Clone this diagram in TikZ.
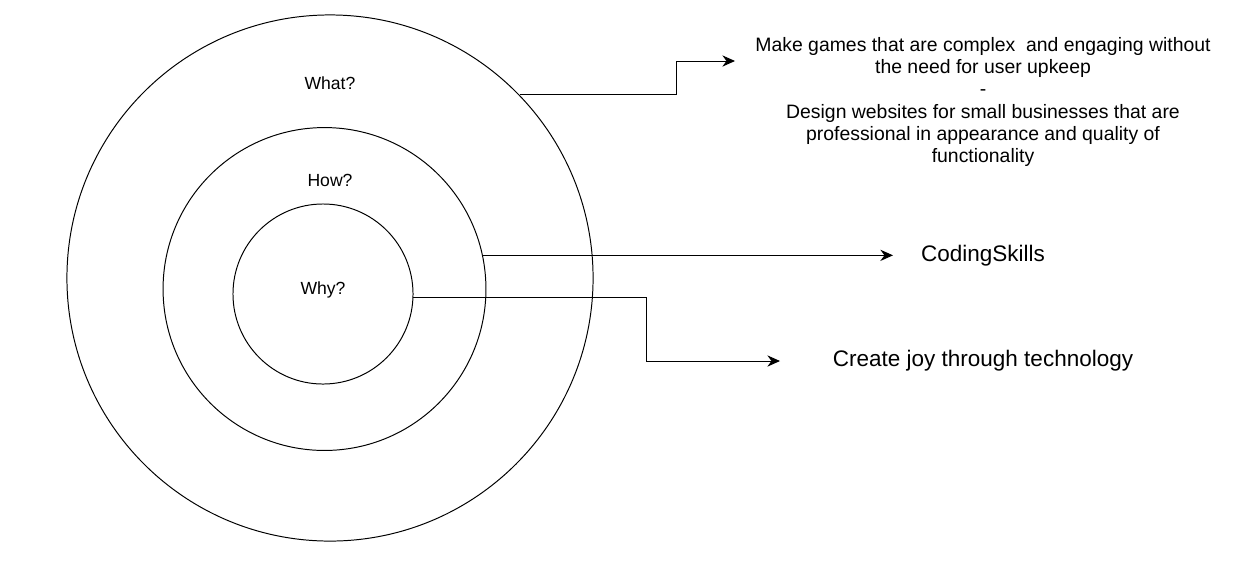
\documentclass[tikz,border=0pt]{standalone}
\usepackage{fontspec}
\setmainfont{Liberation Sans}
\usetikzlibrary{arrows.meta}

\begin{document}
\begin{tikzpicture}[x=0.025cm, y=-0.025cm, line width=0.7pt,
    ring/.style={draw, circle, inner sep=0pt},
    small/.style={font=\fontsize{12.5}{15.9}\selectfont},
    answer/.style={font=\fontsize{13.8}{15.9}\selectfont, align=center},
    big/.style={font=\fontsize{16}{19}\selectfont},
    >={Stealth[length=9pt, width=8pt]}]
    \useasboundingbox (0,0) rectangle (1233,568);
    % the three rings
    \node[ring, minimum size=13.15cm] (what) at (330,278) {};
    \node[ring, minimum size=8.07cm] (how) at (324.5,289) {};
    \node[ring, minimum size=4.5cm] (why) at (323,294) {};
    \node[small] (whatlbl) at (330,83) {What?};
    \node[small] (howlbl) at (330,180) {How?};
    \node[small] (whylbl) at (323,290) {Why?};
    % answers
    \node[answer] (whattxt) at (983,102)
        {Make games that are complex \ and engaging without\\
         the need for user upkeep\\ -\\
         Design websites for small businesses that are\\
         professional in appearance and quality of\\
         functionality};
    \node[big] (howtxt) at (983,256) {CodingSkills};
    \node[big] (whytxt) at (983,361) {Create joy through technology};
    \coordinate (whattip) at (735,61);
    \coordinate (howtip) at (893,256);
    \coordinate (whytip) at (780,361);
    % connectors
    \draw[->] (what.44.8) -| (676,61) -- (whattip);
    \draw[->] (how.12) -- (how.12 -| howtip);
    \draw[->] (why.-2.4) -| (646,361) -- (whytip);
\end{tikzpicture}
\end{document}
